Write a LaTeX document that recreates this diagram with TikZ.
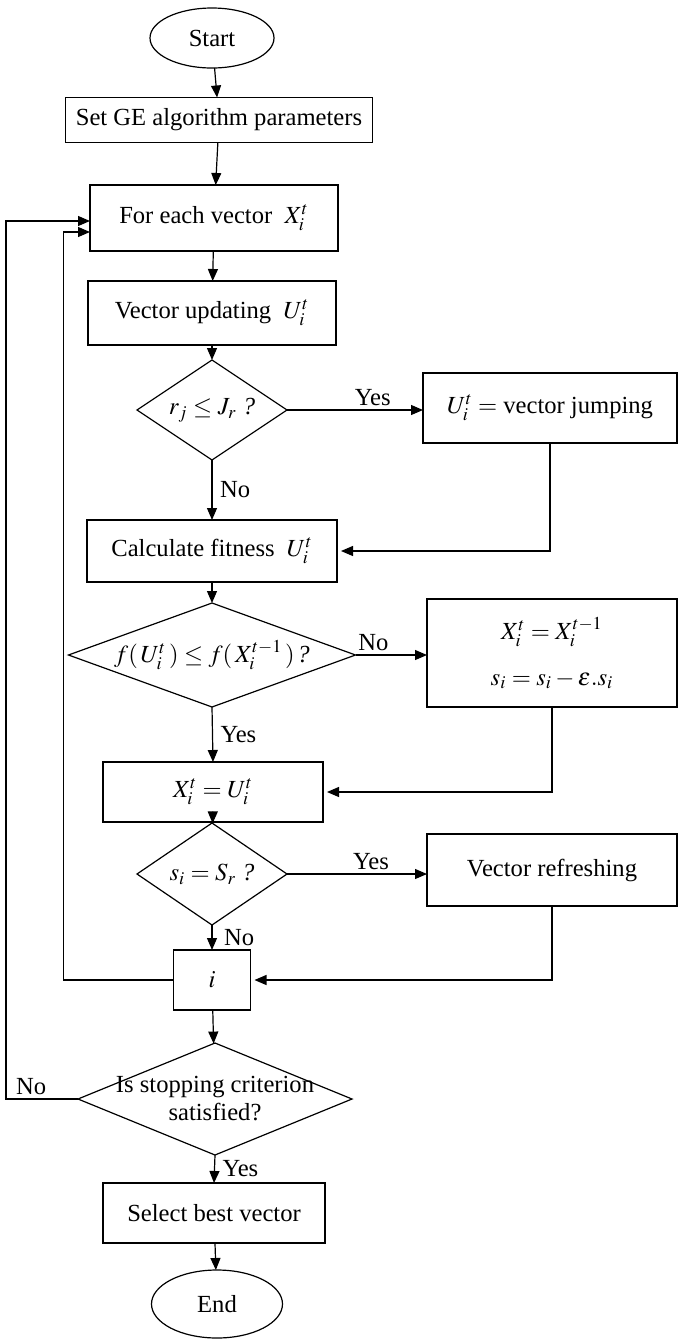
\documentclass[tikz,border=0pt]{standalone}
\usepackage{mathptmx}
\usepackage{fontspec}
\setmainfont{Liberation Serif}
\usetikzlibrary{shapes.geometric}
\usetikzlibrary{arrows.meta}

\begin{document}
\begin{tikzpicture}[x=0.5pt,y=-0.5pt,font=\fontsize{12.3}{14}\selectfont,
  every node/.style={inner sep=0pt,outer sep=0pt},
  box/.style={draw,rectangle,align=center,line width=0.6pt},
  term/.style={draw,ellipse,line width=0.6pt},
  decision/.style={draw,diamond,line width=0.6pt},
  arr/.style={-{Triangle[length=6pt,width=5pt]},line width=0.6pt},
  back/.style={arr,shorten >=2pt}]
\useasboundingbox (0,0) rectangle (679,1340);
% main column
\node[term,minimum width=62pt,minimum height=30pt] (start) at (212,38) {Start};
\node[box,inner xsep=5pt,minimum height=22.5pt] (setge) at (219,120) {Set GE algorithm parameters};
\node[box,minimum width=124pt,minimum height=33pt] (foreach) at (214,218) {For each vector\ \ $X_i^t$};
\node[box,minimum width=124pt,minimum height=32pt] (update) at (212,313) {Vector updating\ \ $U_i^t$};
\node[decision,minimum width=75pt,minimum height=50pt,label={[name=t1]center:{$r_j\leq J_r$\ \textit{?}}}] (dia1) at (212,410) {};
\node[box,minimum width=125pt,minimum height=31pt] (calc) at (212,551) {Calculate fitness\ \ $U_i^t$};
\node[decision,minimum width=143.5pt,minimum height=52pt,label={[name=t2]center:{$f(\,U_i^t\,)\leq f(\,X_i^{t-1}\,)\,$\textit{?}}}] (dia2) at (212,655) {};
\node[box,minimum width=110pt,minimum height=30pt] (assign) at (213,792) {$X_i^t=U_i^t$};
\node[decision,minimum width=75pt,minimum height=51pt,label={[name=t3]center:{$s_i=S_r$\ \textit{?}}}] (dia3) at (212,874) {};
\node[box,minimum width=38.5pt,minimum height=30pt] (inc) at (212,980) {$i$};
\node[decision,minimum width=137pt,minimum height=56pt,label={[name=t4,align=center]center:{Is stopping criterion\\satisfied?}}] (dia4) at (215,1099) {};
\node[box,minimum width=111pt,minimum height=30pt] (best) at (214,1213) {Select best vector};
\node[term,minimum width=65.5pt,minimum height=34pt] (end) at (217,1304) {End};
% right column
\node[box,minimum width=127pt,minimum height=35pt] (jump) at (550,408) {$U_i^t=$\ vector jumping};
\node[box,minimum width=125pt,minimum height=54pt] (reset) at (552,653) {$X_i^t=X_i^{t-1}$\\[9pt]$s_i=s_i-\varepsilon.s_i$};
\node[box,minimum width=125pt,minimum height=36pt] (refresh) at (552,870) {Vector refreshing};
% flow
\draw[arr] (start) -- (setge);
\draw[arr] (setge) -- (foreach);
\draw[arr] (foreach) -- (update);
\draw[arr] (update) -- (dia1);
\draw[arr] (dia1.south) -- (calc.north) node[pos=0.5,right=4pt] (no1) {No};
\draw[arr] (dia1.east) -- (dia1.east -| jump.west) node[pos=0.63,above=2pt] (yes1) {Yes};
\draw[back] (jump.south) |- (calc.east);
\draw[arr] (calc) -- (dia2);
\draw[arr] (dia2.east) -- (dia2.east -| reset.west) node[pos=0.25,above=2pt] (no2) {No};
\draw[arr] (dia2.south) -- (assign.north) node[pos=0.5,right=4pt] (yes2) {Yes};
\draw[back] (reset.south) |- (assign.east);
\draw[arr] (assign) -- (dia3);
\draw[arr] (dia3.east) -- (dia3.east -| refresh.west) node[pos=0.6,above=2pt] (yes3) {Yes};
\draw[arr] (dia3.south) -- (inc.north) node[pos=0.5,right=6pt] (no3) {No};
\draw[back] (refresh.south) |- (inc.east);
\draw[arr] (inc) -- (dia4);
\draw[arr] (inc.west) -- ++(-55pt,0) |- ([yshift=-7pt]foreach.west);
\draw[arr] (dia4.west) -- ++(-36pt,0) node[pos=0.65,above=2pt] (no4) {No} |- ([yshift=-1.5pt]foreach.west);
\draw[arr] (dia4.south) -- (best.north) node[pos=0.5,right=4pt] (yes4) {Yes};
\draw[arr] (best) -- (end);
\end{tikzpicture}
\end{document}
